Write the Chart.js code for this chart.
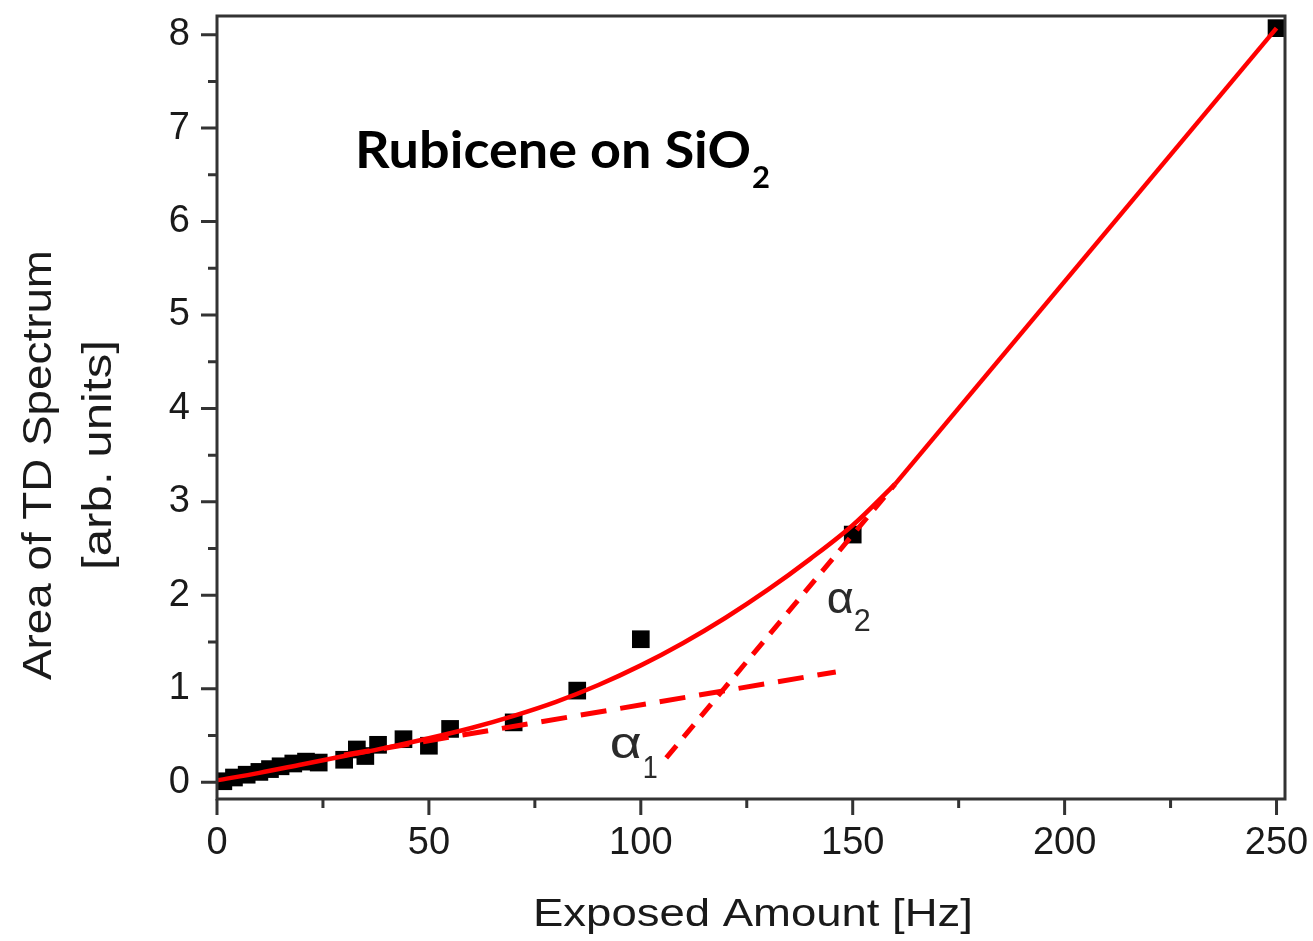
<!DOCTYPE html>
<html>
<head>
<meta charset="utf-8">
<title>Rubicene on SiO2 – TD spectrum area</title>
<script src="https://cdn.jsdelivr.net/npm/chart.js@4.4.1/dist/chart.umd.min.js"></script>
<style>
  html, body { margin: 0; padding: 0; background: #ffffff; }
  canvas { display: block; }
</style>
</head>
<body>
<canvas id="chart" width="1313" height="941"></canvas>
<script>
// Measured TD spectrum areas vs. exposed amount
const exposedHz = [1.5, 4, 7, 10, 12.5, 15, 18, 21, 24, 30, 33, 35, 38, 44, 50, 55, 70, 85, 100, 150, 250];
const tdArea    = [0.01, 0.05, 0.08, 0.11, 0.14, 0.17, 0.20, 0.22, 0.21, 0.24, 0.35, 0.28, 0.40, 0.46, 0.39, 0.57, 0.64, 0.98, 1.53, 2.65, 8.07];

// Fitted curve (curved part up to the kink, then straight part)
const fitX = [0, 10, 20, 30, 40, 50, 60, 70, 80, 90, 100, 110, 120, 130, 140, 150, 160];
const fitY = [0.02, 0.10, 0.19, 0.28, 0.37, 0.47, 0.58, 0.71, 0.86, 1.04, 1.25, 1.49, 1.76, 2.06, 2.39, 2.75, 3.19];
const linearX = [160, 250];
const linearY = [3.19, 8.07];

// Slope guide lines
const alpha1X = [30, 146];
const alpha1Y = [0.29, 1.18];
const alpha2X = [106, 160];
const alpha2Y = [0.26, 3.19];

// Axis ticks
const xMajorTicks = [0, 50, 100, 150, 200, 250];
const xMinorTicks = [25, 75, 125, 175, 225];
const yMajorTicks = [0, 1, 2, 3, 4, 5, 6, 7, 8];
const yMinorTicks = [0.5, 1.5, 2.5, 3.5, 4.5, 5.5, 6.5, 7.5];

const toPoints = (xs, ys) => xs.map((x, i) => ({ x: x, y: ys[i] }));

const RED = '#ff0000';
const INK = '#1a1a1a';
const FRAME = '#333333';

// Draw text with a given font, stretched/compressed to a target width
function fitText(ctx, str, x, y, font, width, rotate) {
  ctx.save();
  ctx.font = font;
  const w = ctx.measureText(str).width;
  ctx.translate(x, y);
  if (rotate) ctx.rotate(rotate);
  ctx.scale(width / w, 1);
  ctx.textAlign = 'left';
  ctx.textBaseline = 'alphabetic';
  ctx.fillText(str, 0, 0);
  ctx.restore();
}

const decorations = {
  id: 'decorations',
  afterDraw(chart) {
    const ctx = chart.ctx;
    const a = chart.chartArea;
    const xs = chart.scales.x;
    const ys = chart.scales.y;

    // frame
    ctx.save();
    ctx.strokeStyle = FRAME;
    ctx.lineWidth = 3;
    ctx.strokeRect(a.left, a.top, a.right - a.left, a.bottom - a.top);

    // outward tick marks
    ctx.lineWidth = 3;
    ctx.beginPath();
    xMajorTicks.forEach(v => { const p = xs.getPixelForValue(v); ctx.moveTo(p, a.bottom); ctx.lineTo(p, a.bottom + 16); });
    xMinorTicks.forEach(v => { const p = xs.getPixelForValue(v); ctx.moveTo(p, a.bottom); ctx.lineTo(p, a.bottom + 9); });
    yMajorTicks.forEach(v => { const p = ys.getPixelForValue(v); ctx.moveTo(a.left, p); ctx.lineTo(a.left - 16, p); });
    yMinorTicks.forEach(v => { const p = ys.getPixelForValue(v); ctx.moveTo(a.left, p); ctx.lineTo(a.left - 9, p); });
    ctx.stroke();
    ctx.restore();

    // axis titles
    ctx.save();
    ctx.fillStyle = INK;
    fitText(ctx, 'Exposed Amount [Hz]', 533, 926, '39px "Liberation Sans", Arial, sans-serif', 440, 0);
    fitText(ctx, 'Area of TD Spectrum', 51, 680, '41px "Liberation Sans", Arial, sans-serif', 430, -Math.PI / 2);
    fitText(ctx, '[arb. units]', 111, 570, '41px "Liberation Sans", Arial, sans-serif', 230, -Math.PI / 2);

    // panel title
    ctx.fillStyle = '#000000';
    fitText(ctx, 'Rubicene on SiO', 355, 168, 'bold 51px Lato, "Open Sans", sans-serif', 396, 0);
    fitText(ctx, '2', 752, 188, 'bold 31px Lato, "Open Sans", sans-serif', 18, 0);

    // slope labels
    ctx.fillStyle = '#2a2a2a';
    const l1x = xs.getPixelForValue(92.7), l1y = ys.getPixelForValue(0.26);
    fitText(ctx, 'α', l1x, l1y, '44px "Liberation Sans", Arial, sans-serif', 32, 0);
    fitText(ctx, '1', l1x + 33, l1y + 20, '32px "Liberation Sans", Arial, sans-serif', 15, 0);
    const l2x = xs.getPixelForValue(143.9), l2y = ys.getPixelForValue(1.81);
    fitText(ctx, 'α', l2x, l2y, '44px "Liberation Sans", Arial, sans-serif', 27, 0);
    fitText(ctx, '2', l2x + 27, l2y + 18, '32px "Liberation Sans", Arial, sans-serif', 17, 0);
    ctx.restore();
  }
};

const tickFont = { family: '"Liberation Sans", Arial, sans-serif', size: 38 };

new Chart(document.getElementById('chart').getContext('2d'), {
  type: 'scatter',
  data: {
    datasets: [
      {
        label: 'fit',
        data: toPoints(fitX, fitY),
        showLine: true,
        borderColor: RED,
        borderWidth: 4.5,
        pointRadius: 0,
        cubicInterpolationMode: 'monotone',
        order: 1
      },
      {
        label: 'fit (linear)',
        data: toPoints(linearX, linearY),
        showLine: true,
        borderColor: RED,
        borderWidth: 4.5,
        pointRadius: 0,
        order: 1
      },
      {
        label: 'α1',
        data: toPoints(alpha1X, alpha1Y),
        showLine: true,
        borderColor: RED,
        borderWidth: 5,
        borderDash: [26, 14],
        pointRadius: 0,
        order: 2
      },
      {
        label: 'α2',
        data: toPoints(alpha2X, alpha2Y),
        showLine: true,
        borderColor: RED,
        borderWidth: 5,
        borderDash: [16, 11],
        pointRadius: 0,
        order: 2
      },
      {
        label: 'TD area',
        data: toPoints(exposedHz, tdArea),
        showLine: false,
        pointStyle: 'rect',
        pointRadius: 12.5,
        pointBackgroundColor: '#000000',
        pointBorderWidth: 0,
        order: 5
      }
    ]
  },
  options: {
    responsive: false,
    animation: false,
    devicePixelRatio: 1,
    layout: { padding: { top: 16, right: 28, left: 0, bottom: 0 } },
    plugins: { legend: { display: false }, tooltip: { enabled: false } },
    scales: {
      x: {
        type: 'linear',
        min: 0,
        max: 252,
        grid: { display: false, drawTicks: false },
        border: { display: false },
        afterBuildTicks: s => { s.ticks = xMajorTicks.map(v => ({ value: v })); },
        afterFit: s => { s.height = 142; s.paddingLeft = 0; s.paddingRight = 0; },
        ticks: { font: tickFont, color: INK, padding: 22, maxRotation: 0, autoSkip: false }
      },
      y: {
        type: 'linear',
        min: -0.18,
        max: 8.2,
        grid: { display: false, drawTicks: false },
        border: { display: false },
        afterBuildTicks: s => { s.ticks = yMajorTicks.map(v => ({ value: v })); },
        afterFit: s => { s.width = 217; s.paddingTop = 0; s.paddingBottom = 0; },
        ticks: { font: tickFont, color: INK, padding: 27, autoSkip: false }
      }
    }
  },
  plugins: [decorations]
});
</script>
</body>
</html>
